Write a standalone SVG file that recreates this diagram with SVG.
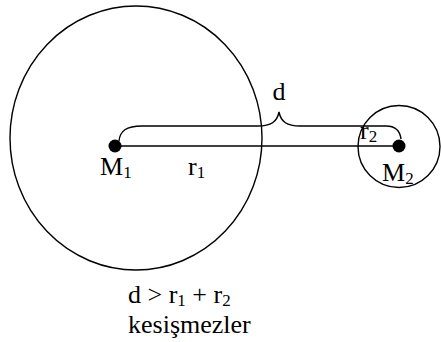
<svg xmlns="http://www.w3.org/2000/svg" width="441" height="342" viewBox="0 0 441 342">
<style>
.ln{fill:none;stroke:#000;stroke-width:1.4}
.t{font-family:"Liberation Serif","Times New Roman",serif;font-size:26px;fill:#000}
.s{font-size:17px}
</style>
<rect width="441" height="342" fill="#fff"/>
<g id="circle1"><ellipse class="ln" cx="136" cy="138" rx="126" ry="132"/></g>
<g id="circle2"><circle class="ln" cx="399" cy="146.5" r="41"/></g>
<g id="connectors">
<line class="ln" x1="115" y1="146" x2="399" y2="146"/>
<path class="ln" d="M119,141 C120,131 126,126 142,126 L258,126 C271,126 277,122 279,112 C281,122 287,126 300,126 L386,126 C396,126 400,131 401,139"/>
</g>
<g id="M1"><circle cx="115" cy="146" r="6.5" fill="#000"/><text class="t" x="100" y="175">M<tspan class="s" dy="3">1</tspan></text></g>
<g id="M2"><circle cx="399" cy="146" r="6.5" fill="#000"/><text class="t" x="382" y="181">M<tspan class="s" dy="3">2</tspan></text></g>
<g id="lbl-d"><text class="t" x="279" y="100" text-anchor="middle">d</text></g>
<g id="lbl-r1"><text class="t" x="188" y="175">r<tspan class="s" dy="3">1</tspan></text></g>
<g id="lbl-r2"><text class="t" x="360" y="139">r<tspan class="s" dy="3">2</tspan></text></g>
<g id="caption">
<text class="t" x="128" y="303">d &gt; r<tspan class="s" dy="3">1</tspan><tspan dy="-3"> + r</tspan><tspan class="s" dy="3">2</tspan></text>
<text class="t" x="128" y="333">kesişmezler</text>
</g>
</svg>
